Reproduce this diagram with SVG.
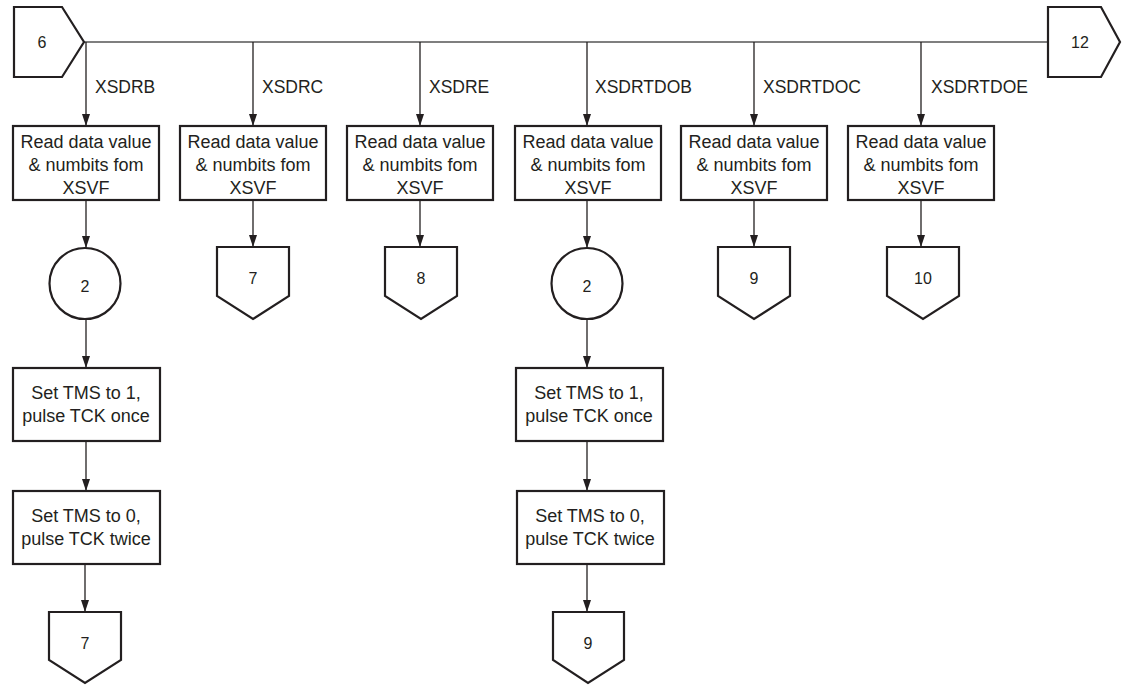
<svg xmlns="http://www.w3.org/2000/svg" width="1129" height="685" viewBox="0 0 1129 685">
<style>
.shape{fill:#fff;stroke:#231f20;stroke-width:2.2}
.conn{fill:none;stroke:#231f20;stroke-width:1.3}
.bus{fill:none;stroke:#555;stroke-width:1.3}
text{font-family:"Liberation Sans",Arial,sans-serif;fill:#231f20}
.t{font-size:18px;text-anchor:middle}
.lbl{font-size:17.5px}
.n{font-size:16px;text-anchor:middle}
</style>
<defs>
<marker id="ah" markerUnits="userSpaceOnUse" markerWidth="12" markerHeight="8" refX="12" refY="4" orient="auto">
<path d="M0,0 L12,4 L0,8 z" fill="#231f20"/>
</marker>
</defs>
<rect width="1129" height="685" fill="#fff"/>
<g id="connectors">
<line class="bus" x1="84" y1="42" x2="1048" y2="42"/>
<line class="conn" x1="86" y1="42" x2="86" y2="126" marker-end="url(#ah)"/>
<line class="conn" x1="253" y1="42" x2="253" y2="126" marker-end="url(#ah)"/>
<line class="conn" x1="420" y1="42" x2="420" y2="126" marker-end="url(#ah)"/>
<line class="conn" x1="587" y1="42" x2="587" y2="126" marker-end="url(#ah)"/>
<line class="conn" x1="754" y1="42" x2="754" y2="126" marker-end="url(#ah)"/>
<line class="conn" x1="921" y1="42" x2="921" y2="126" marker-end="url(#ah)"/>
<line class="conn" x1="86" y1="200" x2="86" y2="248" marker-end="url(#ah)"/>
<line class="conn" x1="253" y1="200" x2="253" y2="247" marker-end="url(#ah)"/>
<line class="conn" x1="420" y1="200" x2="420" y2="247" marker-end="url(#ah)"/>
<line class="conn" x1="587" y1="200" x2="587" y2="248" marker-end="url(#ah)"/>
<line class="conn" x1="754" y1="200" x2="754" y2="247" marker-end="url(#ah)"/>
<line class="conn" x1="921" y1="200" x2="921" y2="247" marker-end="url(#ah)"/>
<line class="conn" x1="86" y1="319" x2="86" y2="368" marker-end="url(#ah)"/>
<line class="conn" x1="587" y1="319" x2="587" y2="368" marker-end="url(#ah)"/>
<line class="conn" x1="86" y1="441" x2="86" y2="491" marker-end="url(#ah)"/>
<line class="conn" x1="587" y1="441" x2="587" y2="491" marker-end="url(#ah)"/>
<line class="conn" x1="85" y1="564" x2="85" y2="612" marker-end="url(#ah)"/>
<line class="conn" x1="587" y1="564" x2="587" y2="612" marker-end="url(#ah)"/>
<text class="lbl" x="95" y="93">XSDRB</text>
<text class="lbl" x="262" y="93">XSDRC</text>
<text class="lbl" x="429" y="93">XSDRE</text>
<text class="lbl" x="595" y="93">XSDRTDOB</text>
<text class="lbl" x="763" y="93">XSDRTDOC</text>
<text class="lbl" x="931" y="93">XSDRTDOE</text>
</g>
<g id="in6">
<polygon class="shape" points="14,7 62,7 84,42 62,77 14,77"/>
<text class="n" x="42" y="48">6</text>
</g>
<g id="out12">
<polygon class="shape" points="1048,7 1101,7 1120,42 1101,77 1048,77"/>
<text class="n" x="1080" y="48">12</text>
</g>
<g id="read1"><rect class="shape" x="13" y="126" width="146" height="74"/>
<text class="t" x="86" y="148">Read data value</text><text class="t" x="86" y="171">&amp; numbits fom</text><text class="t" x="86" y="194">XSVF</text></g>
<g id="read2"><rect class="shape" x="180" y="126" width="146" height="74"/>
<text class="t" x="253" y="148">Read data value</text><text class="t" x="253" y="171">&amp; numbits fom</text><text class="t" x="253" y="194">XSVF</text></g>
<g id="read3"><rect class="shape" x="347" y="126" width="146" height="74"/>
<text class="t" x="420" y="148">Read data value</text><text class="t" x="420" y="171">&amp; numbits fom</text><text class="t" x="420" y="194">XSVF</text></g>
<g id="read4"><rect class="shape" x="515" y="126" width="146" height="74"/>
<text class="t" x="588" y="148">Read data value</text><text class="t" x="588" y="171">&amp; numbits fom</text><text class="t" x="588" y="194">XSVF</text></g>
<g id="read5"><rect class="shape" x="681" y="126" width="146" height="74"/>
<text class="t" x="754" y="148">Read data value</text><text class="t" x="754" y="171">&amp; numbits fom</text><text class="t" x="754" y="194">XSVF</text></g>
<g id="read6"><rect class="shape" x="848" y="126" width="146" height="74"/>
<text class="t" x="921" y="148">Read data value</text><text class="t" x="921" y="171">&amp; numbits fom</text><text class="t" x="921" y="194">XSVF</text></g>
<g id="circ1"><circle class="shape" cx="85" cy="283.5" r="35.5"/><text class="n" x="85" y="292">2</text></g>
<g id="circ4"><circle class="shape" cx="587" cy="283.5" r="35.5"/><text class="n" x="587" y="292">2</text></g>
<g id="off7a"><polygon class="shape" points="217,247 289,247 289,296 253,319 217,296"/><text class="n" x="253" y="284">7</text></g>
<g id="off8"><polygon class="shape" points="385,247 457,247 457,296 421,319 385,296"/><text class="n" x="421" y="284">8</text></g>
<g id="off9a"><polygon class="shape" points="718,247 790,247 790,296 754,319 718,296"/><text class="n" x="754" y="284">9</text></g>
<g id="off10"><polygon class="shape" points="887,247 959,247 959,296 923,319 887,296"/><text class="n" x="923" y="284">10</text></g>
<g id="tms1a"><rect class="shape" x="13" y="368" width="147" height="73"/>
<text class="t" x="86" y="399">Set TMS to 1,</text><text class="t" x="86" y="422">pulse TCK once</text></g>
<g id="tms0a"><rect class="shape" x="13" y="491" width="147" height="73"/>
<text class="t" x="86" y="522">Set TMS to 0,</text><text class="t" x="86" y="545">pulse TCK twice</text></g>
<g id="tms1b"><rect class="shape" x="516" y="368" width="147" height="73"/>
<text class="t" x="589" y="399">Set TMS to 1,</text><text class="t" x="589" y="422">pulse TCK once</text></g>
<g id="tms0b"><rect class="shape" x="517" y="491" width="147" height="73"/>
<text class="t" x="590" y="522">Set TMS to 0,</text><text class="t" x="590" y="545">pulse TCK twice</text></g>
<g id="off7b"><polygon class="shape" points="49,612 121,612 121,660 85,683 49,660"/><text class="n" x="85" y="649">7</text></g>
<g id="off9b"><polygon class="shape" points="553,612 624,612 624,660 588,683 553,660"/><text class="n" x="588" y="649">9</text></g>
</svg>
